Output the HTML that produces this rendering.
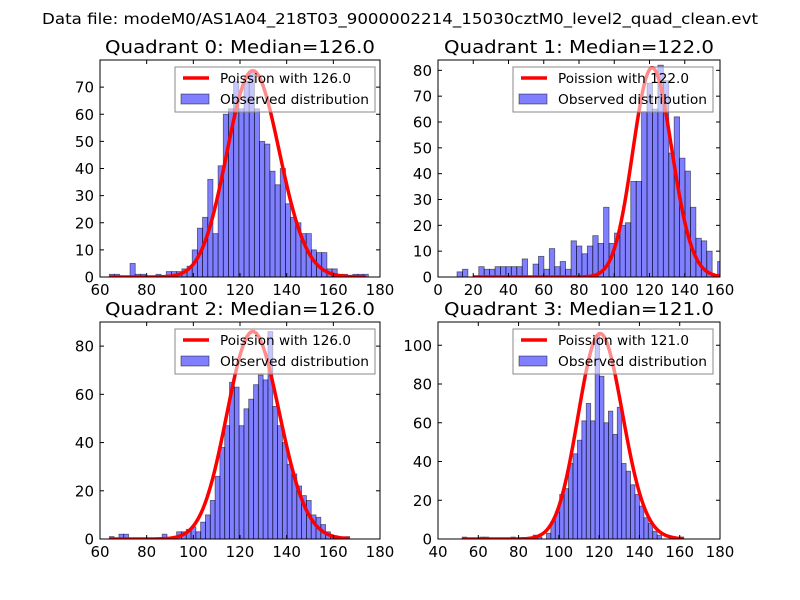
<!DOCTYPE html>
<html><head><meta charset="utf-8"><style>
body{margin:0;background:#fff}
svg{display:block;font-family:"DejaVu Sans","Liberation Sans",sans-serif}
</style></head><body>
<svg id="chart" width="800" height="600" xmlns="http://www.w3.org/2000/svg">
<rect width="800" height="600" fill="#fff"/>
<text x="400" y="24" text-anchor="middle" font-size="15" textLength="716" lengthAdjust="spacingAndGlyphs">Data file: modeM0/AS1A04_218T03_9000002214_15030cztM0_level2_quad_clean.evt</text>
</svg>
<script>
const q0Counts=[1,1,0,0,5,1,1,0,0,1,0,2,2,2,3,4,10,18,22,36,16,41,60,62,72,62,72,76,62,50,49,39,34,40,27,22,20,16,16,10,9,9,3,3,1,1,0,1,1,1];
const q1Counts=[2,3,0,0,4,3,3,4,4,4,4,4,7,0,5,8,3,11,4,6,3,14,12,9,12,16,13,27,13,17,20,21,37,37,64,75,65,82,76,48,62,46,41,27,15,14,10,0,6,5];
const q2Counts=[1,0,2,2,0,0,0,0,0,0,0,2,0,0,3,3,4,5,3,7,10,16,26,38,47,65,63,47,54,58,64,68,66,86,55,47,40,31,27,22,18,16,10,9,6,3,1,0,0,1];
const q3Counts=[1,0,0,0,1,1,0,0,0,0,0,1,0,0,0,0,2,1,0,3,9,14,23,26,39,44,51,61,70,61,105,84,60,66,54,68,39,35,28,23,17,11,8,4,2,0,0,0,0,1];
const binStarts=[64,10.8,64,52];
const binWidths=[2.22,3.08,2.06,2.2];
const medians=[126,122,126,121];
const poissonPeaks=[76,81,86,106];
const curveRanges=[[64,174],[20,160],[64,167],[52,162]];
const titles=["Quadrant 0: Median=126.0","Quadrant 1: Median=122.0","Quadrant 2: Median=126.0","Quadrant 3: Median=121.0"];
const xTicks=[[60,80,100,120,140,160,180],[0,20,40,60,80,100,120,140,160],[60,80,100,120,140,160,180],[40,60,80,100,120,140,160,180]];
const yTicks=[[0,10,20,30,40,50,60,70],[0,10,20,30,40,50,60,70,80],[0,20,40,60,80],[0,20,40,60,80,100]];
const xLims=[[60,180],[0,160],[60,180],[40,180]];
const yLims=[[0,80],[0,84],[0,90],[0,112]];
const allCounts=[q0Counts,q1Counts,q2Counts,q3Counts];
const boxes=[[100,60,380,277],[438,60,720,277],[100,322,380,539],[438,322,720,539]];
const NS="http://www.w3.org/2000/svg";
const svg=document.getElementById('chart');
function mk(tag,attrs,parent){const e=document.createElementNS(NS,tag);for(const k in attrs)e.setAttribute(k,attrs[k]);(parent||svg).appendChild(e);return e;}
function logPmf(k,l){let lg=0;for(let i=2;i<=k;i++)lg+=Math.log(i);return k*Math.log(l)-l-lg;}
for(let q=0;q<4;q++){
  const [L,T,R,B]=boxes[q];
  const [x0,x1]=xLims[q],[y0,y1]=yLims[q];
  const sx=v=>L+(v-x0)/(x1-x0)*(R-L);
  const sy=v=>B-(v-y0)/(y1-y0)*(B-T);
  const g=mk('g',{});
  
  
  const clipId='clip'+q;
  const cp=mk('clipPath',{id:clipId},g);mk('rect',{x:L,y:T,width:R-L,height:B-T},cp);
  const t=mk('text',{x:(L+R)/2,y:T-7,'text-anchor':'middle','font-size':'18',textLength:'270',lengthAdjust:'spacingAndGlyphs'},g);
  t.textContent=titles[q];
  
  
  // bars
  const bg=mk('g',{'clip-path':'url(#'+clipId+')'},g);
  const counts=allCounts[q];
  counts.forEach((c,i)=>{
    if(c<=0)return;
    const a=binStarts[q]+i*binWidths[q],b=a+binWidths[q];
    const r=mk('rect',{x:sx(a),y:sy(c),width:sx(b)-sx(a),height:sy(0)-sy(c),fill:'rgba(0,0,255,0.5)',stroke:'rgba(0,0,0,0.55)','stroke-width':0.8},bg);
    
    
  });
  // poisson curve
  const lam=medians[q],peak=poissonPeaks[q];
  const pm=Math.exp(logPmf(Math.floor(lam),lam));
  let d='';
  for(let k=curveRanges[q][0];k<=curveRanges[q][1];k++){
    const v=Math.exp(logPmf(k,lam))/pm*peak;
    d+=(d?'L':'M')+sx(k).toFixed(2)+','+sy(v).toFixed(2);
  }
  const line=mk('path',{d:d,fill:'none',stroke:'#ff0000','stroke-width':3.5,'stroke-linejoin':'round','clip-path':'url(#'+clipId+')'},g);
  
  
  // frame
  mk('rect',{x:L,y:T,width:R-L,height:B-T,fill:'none',stroke:'#000','stroke-width':1},g);
  xTicks[q].forEach(v=>{
    const x=sx(v);
    mk('line',{x1:x,y1:B,x2:x,y2:B-4,stroke:'#000'},g);
    mk('line',{x1:x,y1:T,x2:x,y2:T+4,stroke:'#000'},g);
    const tl=mk('text',{x:x,y:B+18,'text-anchor':'middle','font-size':'15'},g);
    tl.textContent=v;
    
    
  });
  yTicks[q].forEach(v=>{
    const y=sy(v);
    mk('line',{x1:L,y1:y,x2:L+4,y2:y,stroke:'#000'},g);
    mk('line',{x1:R,y1:y,x2:R-4,y2:y,stroke:'#000'},g);
    const tl=mk('text',{x:L-6,y:y+5.5,'text-anchor':'end','font-size':'15'},g);
    tl.textContent=v;
    
    
  });
  // legend
  const lg=mk('g',{},g);
  
  
  const lx=L+75,ly=T+7;
  mk('rect',{x:lx,y:ly,width:200,height:45,fill:'rgba(255,255,255,0.55)',stroke:'#888','stroke-width':1},lg);
  mk('line',{x1:lx+8,y1:ly+11,x2:lx+34,y2:ly+11,stroke:'#ff0000','stroke-width':3.5},lg);
  const t1=mk('text',{x:lx+45,y:ly+16,'font-size':'13',textLength:'131',lengthAdjust:'spacingAndGlyphs'},lg);t1.textContent='Poission with '+medians[q].toFixed(1);
  
  
  mk('rect',{x:lx+6,y:ly+27,width:28,height:10,fill:'rgba(0,0,255,0.5)',stroke:'rgba(0,0,0,0.55)','stroke-width':0.8},lg);
  const t2=mk('text',{x:lx+45,y:ly+37,'font-size':'13',textLength:'149',lengthAdjust:'spacingAndGlyphs'},lg);t2.textContent='Observed distribution';
  
  
}
</script>
</body></html>
